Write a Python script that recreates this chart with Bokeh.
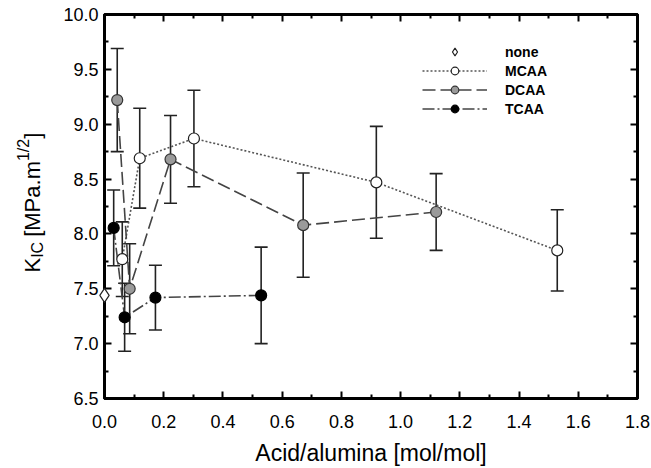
import math
from bokeh.plotting import figure
from bokeh.layouts import row
from bokeh.models import (ColumnDataSource, Whisker, TeeHead, Legend, LegendItem,
                          LinearAxis, FixedTicker, PrintfTickFormatter, Label, Range1d)
from bokeh.embed import file_html
from bokeh.resources import INLINE

# ---- data ----
none_x = [0.0]
none_y = [7.44]

mcaa_x = [0.060, 0.119, 0.302, 0.918, 1.529]
mcaa_y = [7.77, 8.69, 8.87, 8.47, 7.85]
mcaa_err = [0.34, 0.455, 0.44, 0.51, 0.37]

dcaa_x = [0.043, 0.085, 0.223, 0.671, 1.120]
dcaa_y = [9.22, 7.50, 8.68, 8.08, 8.20]
dcaa_err = [0.47, 0.41, 0.40, 0.475, 0.35]

tcaa_x = [0.031, 0.068, 0.172, 0.529]
tcaa_y = [8.055, 7.24, 7.42, 7.44]
tcaa_err = [0.345, 0.31, 0.295, 0.44]

x_ticks = [0.0, 0.2, 0.4, 0.6, 0.8, 1.0, 1.2, 1.4, 1.6, 1.8]
x_minor = [0.1, 0.3, 0.5, 0.7, 0.9, 1.1, 1.3, 1.5, 1.7]
y_ticks = [6.5, 7.0, 7.5, 8.0, 8.5, 9.0, 9.5, 10.0]
y_minor = [6.75, 7.25, 7.75, 8.25, 8.75, 9.25, 9.75]

FONT = "Liberation Sans"
W_PAGE, H_PAGE = 651, 468
LW = 50                               # width of the y-title strip
FL, FR, FT, FB = 104, 637, 14, 398    # frame edges in page pixels

# ---- y-title strip (own figure so the text is not clipped) ----
lf = figure(width=LW, height=H_PAGE, x_range=Range1d(0, LW), y_range=Range1d(FB, FT),
            output_backend="svg", toolbar_location=None,
            x_axis_location=None, y_axis_location=None,
            min_border_left=0, min_border_right=0, min_border_top=FT,
            min_border_bottom=H_PAGE - FB)
lf.grid.visible = False
lf.outline_line_color = None
lf.background_fill_color = "white"
lf.border_fill_color = "white"

W = {"K": 0.667, "I": 0.278, "C": 0.722, "[": 0.278, "M": 0.833, "P": 0.667,
     "a": 0.556, ".": 0.278, "m": 0.833, "1": 0.556, "/": 0.278, "2": 0.556, "]": 0.278}
F, S = 22, 16
# (text, font size, baseline shift, gap after)
pieces = [("K", F, 0, 0), ("IC", S, 5, 5), ("[MPa.m", F, 0, 0), ("1/2", S, -9, 0),
          ("]", F, 0, 0)]
base_x = 32
sy = 272
for txt, fs, shift, gap in pieces:
    lf.add_layout(Label(x=base_x + shift, y=sy, text=txt, angle=math.pi / 2,
                        text_align="left", text_baseline="alphabetic", text_font=FONT,
                        text_font_size=f"{fs}px", text_color="black"))
    sy -= sum(W[c] for c in txt) * fs + gap

# ---- main plot ----
p = figure(width=W_PAGE - LW, height=H_PAGE, x_range=Range1d(0.0, 1.8),
           y_range=Range1d(6.5, 10.0), output_backend="svg", toolbar_location=None,
           min_border_left=FL - LW, min_border_right=W_PAGE - FR, min_border_top=FT,
           min_border_bottom=H_PAGE - FB)
p.grid.visible = False
p.outline_line_color = "black"
p.outline_line_width = 3
p.background_fill_color = "white"
p.border_fill_color = "white"

xt = FixedTicker(ticks=x_ticks, minor_ticks=x_minor)
yt = FixedTicker(ticks=y_ticks, minor_ticks=y_minor)


def style_axis(ax, show_labels=True):
    ax.axis_line_width = 3
    ax.axis_line_color = "black"
    ax.major_tick_in = 7
    ax.major_tick_out = 0
    ax.minor_tick_in = 4
    ax.minor_tick_out = 0
    ax.major_tick_line_width = 2
    ax.minor_tick_line_width = 2
    ax.major_tick_line_color = "black"
    ax.minor_tick_line_color = "black"
    ax.major_label_text_font = FONT
    ax.formatter = PrintfTickFormatter(format="%.1f")
    if show_labels:
        ax.major_label_text_font_size = "18px"
        ax.major_label_text_color = "black"
    else:
        ax.major_label_text_font_size = "0px"
        ax.major_label_text_alpha = 0


xa = p.xaxis[0]
xa.ticker = xt
style_axis(xa)
xa.major_label_standoff = 16
xa.axis_label = "Acid/alumina [mol/mol]"
xa.axis_label_text_font = FONT
xa.axis_label_text_font_size = "23px"
xa.axis_label_text_font_style = "normal"
xa.axis_label_text_color = "black"
xa.axis_label_standoff = 9

ya = p.yaxis[0]
ya.ticker = yt
style_axis(ya)
ya.major_label_standoff = 6

top = LinearAxis(ticker=xt)
style_axis(top, False)
p.add_layout(top, "above")
right = LinearAxis(ticker=yt)
style_axis(right, False)
p.add_layout(right, "right")


# ---- error bars ----
def add_err(xs, ys, es):
    src = ColumnDataSource(dict(x=xs, lo=[y - e for y, e in zip(ys, es)],
                                hi=[y + e for y, e in zip(ys, es)]))
    w = Whisker(source=src, base="x", lower="lo", upper="hi", dimension="height",
                line_color="#222222", line_width=1.6, level="underlay",
                upper_head=TeeHead(size=13, line_color="#222222", line_width=1.6),
                lower_head=TeeHead(size=13, line_color="#222222", line_width=1.6))
    p.add_layout(w)


add_err(mcaa_x, mcaa_y, mcaa_err)
add_err(dcaa_x, dcaa_y, dcaa_err)
add_err(tcaa_x, tcaa_y, tcaa_err)

# ---- lines ----
ml = p.line(mcaa_x, mcaa_y, line_color="#555555", line_width=1.6, line_dash="2 2")
dl = p.line(dcaa_x, dcaa_y, line_color="#444444", line_width=1.6, line_dash="13 5")
tl = p.line(tcaa_x, tcaa_y, line_color="#444444", line_width=1.6, line_dash="12 3 2 3")

# ---- markers ----
nr = p.scatter(none_x, none_y, marker="diamond", size=14,
               fill_color="white", line_color="#222222", line_width=1.2)
nr.level = "overlay"
mr = p.scatter(mcaa_x, mcaa_y, marker="circle", size=11, fill_color="white",
               line_color="#222222", line_width=1.2)
dr = p.scatter(dcaa_x, dcaa_y, marker="circle", size=11, fill_color="#9a9a9a",
               line_color="#333333", line_width=1.2)
tr = p.scatter(tcaa_x, tcaa_y, marker="circle", size=11, fill_color="black",
               line_color="black", line_width=1.2)

legend = Legend(items=[LegendItem(label="none", renderers=[nr]),
                       LegendItem(label="MCAA", renderers=[ml, mr]),
                       LegendItem(label="DCAA", renderers=[dl, dr]),
                       LegendItem(label="TCAA", renderers=[tl, tr])],
                location=(318, 280), glyph_width=65, glyph_height=19, label_height=19,
                spacing=0, label_standoff=18, padding=0, margin=0,
                border_line_color=None, background_fill_alpha=0,
                label_text_font=FONT, label_text_font_size="14px",
                label_text_font_style="bold", label_text_color="black")
p.add_layout(legend)

layout = row(lf, p, spacing=0)
open("out.html", "w").write(file_html(layout, INLINE))
